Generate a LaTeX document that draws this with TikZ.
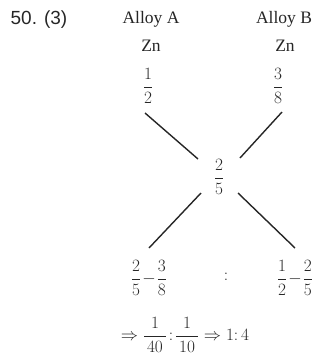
\documentclass[tikz,border=0pt]{standalone}
\usepackage{amsmath}
\usepackage{fontspec}
\setmainfont{Liberation Serif}
\newfontfamily\numfont{Liberation Sans}
\begin{document}
\begin{tikzpicture}[x=1pt,y=-1pt,
  txt/.style={inner sep=0pt, text=black!85, font=\fontsize{17.5}{20}\selectfont},
  mth/.style={inner sep=0pt, text=black!85, font=\fontsize{17.5}{20}\selectfont},
  big/.style={inner sep=0pt, text=black!85, font=\fontsize{19}{22}\selectfont},
  head/.style={inner sep=0pt, text=black!85, font=\numfont\fontsize{19}{22}\selectfont},
  cross/.style={line width=1.4pt, black!85}]
\useasboundingbox (0,0) rectangle (320,362);
\node[head] (num) at (39,20) {50. (3)};
\node[txt] (alloyA) at (151,19) {Alloy A};
\node[txt] (alloyB) at (284,19) {Alloy B};
\node[txt] (znA) at (151,46) {Zn};
\node[txt] (znB) at (285,46) {Zn};
\node[mth] (fA) at (148,86) {$\dfrac{1}{2}$};
\node[mth] (fB) at (278,86) {$\dfrac{3}{8}$};
\node[mth] (mid) at (219,177) {$\dfrac{2}{5}$};
\coordinate (ulA) at (145,113);
\coordinate (ulB) at (198,159);
\coordinate (urA) at (282,112);
\coordinate (urB) at (240,158);
\coordinate (llA) at (201,193);
\coordinate (llB) at (149,248);
\coordinate (lrA) at (238,193);
\coordinate (lrB) at (295,248);
\draw[cross] (ulA) -- (ulB);
\draw[cross] (urA) -- (urB);
\draw[cross] (llA) -- (llB);
\draw[cross] (lrA) -- (lrB);
\node[mth] (dL) at (149,278) {$\dfrac{2}{5}\!-\!\dfrac{3}{8}$};
\node[mth] (colon) at (226,277) {$:$};
\node[mth] (dR) at (295,278) {$\dfrac{1}{2}\!-\!\dfrac{2}{5}$};
\node[big] (res) at (185,335) {$\Rightarrow\dfrac{1}{\,40\,}\!:\!\dfrac{1}{\,10\,}\Rightarrow 1\mathpunct{:}4$};
\end{tikzpicture}
\end{document}
